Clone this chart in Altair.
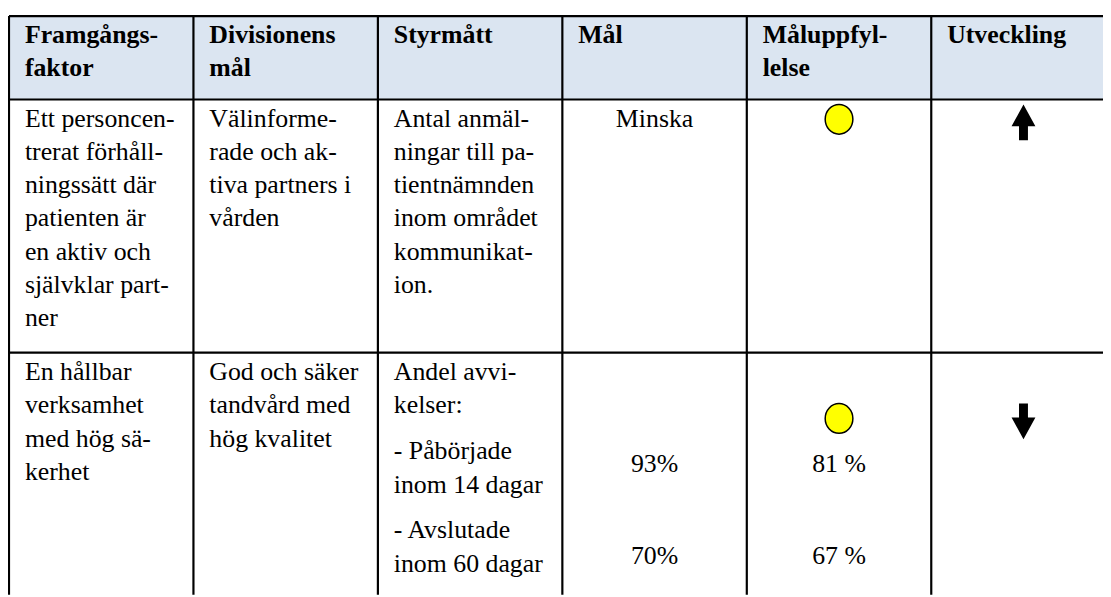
import altair as alt
import pandas as pd

# ---------------- content ----------------
headers = ["Framgångs-\nfaktor", "Divisionens\nmål", "Styrmått", "Mål",
           "Måluppfyl-\nlelse", "Utveckling"]

# each cell is a list of paragraphs; "\n" separates wrapped lines
row1_cells = [
    ["Ett personcen-\ntrerat förhåll-\nningssätt där\npatienten är\nen aktiv och\nsjälvklar part-\nner"],
    ["Välinforme-\nrade och ak-\ntiva partners i\nvården"],
    ["Antal anmäl-\nningar till pa-\ntientnämnden\ninom området\nkommunikat-\nion."],
    ["Minska"],
    ["[status]"],
    ["[trend]"],
]
row2_cells = [
    ["En hållbar\nverksamhet\nmed hög sä-\nkerhet"],
    ["God och säker\ntandvård med\nhög kvalitet"],
    ["Andel avvi-\nkelser:", "- Påbörjade\ninom 14 dagar", "- Avslutade\ninom 60 dagar"],
    ["", "", "93%", "", "70%"],
    ["", "[status]", "81 %", "", "67 %"],
    ["", "[trend]"],
]
status_values = ["gul", "gul"]      # måluppfyllelse per row
trend_values = ["upp", "ned"]       # utveckling per row
centered_cols = [3, 4, 5]

# ---------------- layout / style ----------------
W, H = 1103, 589          # chart = whole visible page below the 8px margin
LEFT = 9.0                # table left border (page px)
COL_W = 185.8
PAD_X = 16.0
LH = 33.3                 # line height
GAP = 13.0                # paragraph spacing
ROW_TOPS = [14.0, 98.0, 353.0]
FIRST_OFF = [19.0, 20.0, 20.0]
FONT = "'Liberation Serif', 'Times New Roman', Times, serif"
FS = 26
HEADER_BG = "#dbe5f1"

d0 = (8 - LEFT) / COL_W
d1 = (8 + W - LEFT) / COL_W
xs = alt.Scale(domain=[d0, d1], nice=False, zero=False)
ys = alt.Scale(domain=[8, 8 + H], nice=False, zero=False, reverse=True)
X = lambda f="x": alt.X(f"{f}:Q", scale=xs, axis=None)
Y = lambda f="y": alt.Y(f"{f}:Q", scale=ys, axis=None)

# ---------------- build tables ----------------
texts, markers = [], []
rows = [[[h] for h in headers], row1_cells, row2_cells]
for r, cells in enumerate(rows):
    for c, paras in enumerate(cells):
        y = ROW_TOPS[r] + FIRST_OFF[r]
        center = c in centered_cols and r > 0
        xpos = c + 0.5 if center else c + PAD_X / COL_W
        for p in paras:
            for line in p.split("\n"):
                if line == "[status]":
                    markers.append({"x": c + 0.5, "y": y, "kind": "status",
                                    "val": status_values[r - 1]})
                elif line == "[trend]":
                    markers.append({"x": c + 0.5, "y": y, "kind": "trend",
                                    "val": trend_values[r - 1]})
                elif line:
                    texts.append({"x": xpos, "y": y, "text": line,
                                  "kind": "head" if r == 0 else ("center" if center else "left")})
                y += LH
            y += GAP

tdf = pd.DataFrame(texts)
mdf = pd.DataFrame(markers)

hrules = pd.DataFrame({"y": ROW_TOPS, "x": [0.0] * 3, "x2": [d1] * 3})
vrules = pd.DataFrame({"x": [float(i) for i in range(len(headers))],
                       "y": [ROW_TOPS[0]] * len(headers),
                       "y2": [8.0 + H] * len(headers)})
hdr = pd.DataFrame({"x": [0.0], "x2": [d1], "y": [ROW_TOPS[0]], "y2": [ROW_TOPS[1]]})

bg = alt.Chart(hdr).mark_rect(color=HEADER_BG).encode(
    x=X(), x2="x2", y=Y(), y2="y2")

hr = alt.Chart(hrules).mark_rule(color="black", strokeWidth=2.2).encode(
    x=X(), x2="x2", y=Y())
vr = alt.Chart(vrules).mark_rule(color="black", strokeWidth=2.2).encode(
    x=X(), y=Y(), y2="y2")

def text_layer(kind, align, weight):
    return alt.Chart(tdf[tdf.kind == kind]).mark_text(
        align=align, baseline="middle", font=FONT, fontSize=FS,
        fontWeight=weight, color="black").encode(x=X(), y=Y(), text="text:N")

t_head = text_layer("head", "left", "bold")
t_left = text_layer("left", "left", "normal")
t_center = text_layer("center", "center", "normal")

oval = "M0,-1A0.93,1 0 1,1 0,1A0.93,1 0 1,1 0,-1Z"
up = "M0,-1L0.667,0.22L0.25,0.22L0.25,1L-0.25,1L-0.25,0.22L-0.667,0.22Z"
down = "M0,1L0.667,-0.22L0.25,-0.22L0.25,-1L-0.25,-1L-0.25,-0.22L-0.667,-0.22Z"

circ = alt.Chart(mdf[mdf.kind == "status"]).mark_point(
    shape=oval, size=900, filled=True, stroke="black", strokeWidth=1.5, opacity=1
).encode(x=X(), y=Y(),
         fill=alt.Fill("val:N", scale=alt.Scale(domain=["gul"], range=["#ffff00"]), legend=None))

arrows = alt.Chart(mdf[mdf.kind == "trend"]).mark_point(
    size=1296, filled=True, color="black", opacity=1, yOffset=3
).encode(x=X(), y=Y(),
         shape=alt.Shape("val:N", scale=alt.Scale(domain=["upp", "ned"], range=[up, down]), legend=None))

chart = alt.layer(bg, t_head, t_left, t_center, circ, arrows, hr, vr).properties(
    width=W, height=H, padding=0, autosize=alt.AutoSizeParams(type="none"),
    background="white"
).configure_view(stroke=None)

chart.save("out.html", embed_options={"renderer": "svg", "actions": False})
